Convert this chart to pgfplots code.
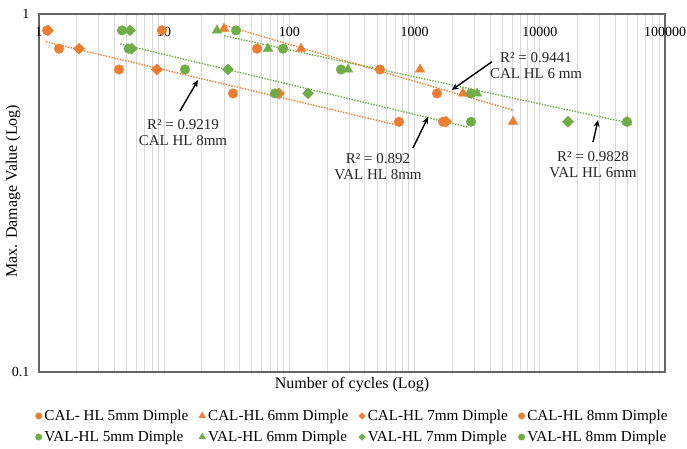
\documentclass[border=0pt]{standalone}
\usepackage{fontspec}
\setmainfont{Liberation Serif}
\usepackage{pgfplots}
\pgfplotsset{compat=1.18}
\usetikzlibrary{arrows.meta}
\definecolor{cOr}{HTML}{ED7D31}
\definecolor{cGr}{HTML}{70AD47}
\definecolor{gridc}{HTML}{D9D9D9}
\begin{document}
\begin{tikzpicture}
\useasboundingbox (-39pt,-76pt) rectangle (648pt,372pt);
\begin{axis}[
  at={(0,0)}, anchor=south west,
  scale only axis, width=626pt, height=358pt,
  xmode=log, ymode=log,
  xmin=1, xmax=100000, ymin=0.1, ymax=1,
  xtick={1,10,100,1000,10000,100000},
  xticklabels={1,10,100,1000,10000,100000},
  ytick={0.1,1}, yticklabels={0.1,1},
  yminorticks=false,
  xmajorgrids, xminorgrids,
  grid style={draw=gridc, line width=0.8pt},
  minor grid style={draw=gridc, line width=0.8pt},
  major grid style={draw=gridc, line width=0.8pt},
  major tick length=0pt, minor tick length=0pt,
  axis line style={draw=black!60, line width=1.2pt},
  xticklabel pos=upper,
  x tick label style={anchor=center, yshift=-18pt, font=\fontsize{14}{16}\selectfont},
  y tick label style={xshift=-6pt, font=\fontsize{14}{16}\selectfont},
  xlabel={Number of cycles (Log)},
  xlabel style={at={(axis description cs:0.5,-0.034)}, anchor=center, font=\fontsize{16}{18}\selectfont},
  ylabel={Max. Damage Value (Log)},
  ylabel style={at={(axis description cs:-0.0415,0.505)}, anchor=center, font=\fontsize{16}{18}\selectfont},
  legend columns=4,
  legend cell align=left,
  legend style={at={(axis description cs:0.5,-0.1522)}, anchor=center, draw=none, fill=none,
    font=\fontsize{15.2}{17}\selectfont, row sep=7pt,
    nodes={inner sep=1pt},
    /tikz/every odd column/.append style={column sep=1.5pt},
    /tikz/every even column/.append style={column sep=9.5pt}},
  legend image code/.code={\draw[#1] plot coordinates {(0pt,0pt)};},
  legend image post style={mark size=3.2pt},
]
% CAL-HL 5mm
\addplot[only marks, mark=*, mark size=4.8pt, color=cOr] coordinates {
 (9.6,0.9) (55.1,0.8) (529,0.7) (1510,0.6) (1686,0.5)};
\addlegendentry{CAL- HL 5mm Dimple}
% CAL-HL 6mm
\addplot[only marks, mark=triangle*, mark size=5.5pt, color=cOr,
  legend image post style={mark size=3.9pt}] coordinates {
 (30.0,0.91) (123.8,0.8) (1105,0.7) (2436,0.6) (6109,0.5)};
\addlegendentry{CAL-HL 6mm Dimple}
% CAL-HL 7mm
\addplot[only marks, mark=square*, mark options={rotate=45}, mark size=3.9pt, color=cOr,
  legend image post style={mark size=2.3pt}] coordinates {
 (1.18,0.9) (2.09,0.8) (8.76,0.7) (82.6,0.6) (1782,0.5)};
\addlegendentry{CAL-HL 7mm Dimple}
% CAL-HL 8mm
\addplot[only marks, mark=*, mark size=4.8pt, color=cOr] coordinates {
 (1.16,0.9) (1.445,0.8) (4.355,0.7) (35.4,0.6) (750,0.5)};
\addlegendentry{CAL-HL 8mm Dimple}
% VAL-HL 5mm
\addplot[only marks, mark=*, mark size=4.8pt, color=cGr] coordinates {
 (37.5,0.9) (88.9,0.8) (258,0.7) (2822,0.6) (49710,0.5)};
\addlegendentry{VAL-HL 5mm Dimple}
% VAL-HL 6mm
\addplot[only marks, mark=triangle*, mark size=5.5pt, color=cGr,
  legend image post style={mark size=3.9pt}] coordinates {
 (26.4,0.9) (67.5,0.8) (294,0.7) (3150,0.6) (49710,0.5)};
\addlegendentry{VAL-HL 6mm Dimple}
% VAL-HL 7mm
\addplot[only marks, mark=square*, mark options={rotate=45}, mark size=3.9pt, color=cGr,
  legend image post style={mark size=2.3pt}] coordinates {
 (5.33,0.9) (5.5,0.8) (32.3,0.7) (140.8,0.6) (16800,0.5)};
\addlegendentry{VAL-HL 7mm Dimple}
% VAL-HL 8mm
\addplot[only marks, mark=*, mark size=4.8pt, color=cGr] coordinates {
 (4.60,0.9) (5.2,0.8) (14.66,0.7) (76.7,0.6) (2822,0.5)};
\addlegendentry{VAL-HL 8mm Dimple}
% trendlines
\addplot[forget plot, no marks, color=cOr, line width=1.4pt, dash pattern=on 1.4pt off 1.4pt] coordinates {(1.138,0.836) (744.7,0.4885)};
\addplot[forget plot, no marks, color=cGr, line width=1.4pt, dash pattern=on 1.4pt off 1.4pt] coordinates {(4.446,0.825) (2704,0.4823)};
\addplot[forget plot, no marks, color=cOr, line width=1.4pt, dash pattern=on 1.4pt off 1.4pt] coordinates {(29.65,0.932) (6194,0.5377)};
\addplot[forget plot, no marks, color=cGr, line width=1.4pt, dash pattern=on 1.4pt off 1.4pt] coordinates {(30.2,0.869) (48753,0.498)};
% annotations
\tikzset{ann/.style={align=center, font=\fontsize{15}{16}\selectfont, text=black!85},
         arr/.style={-{Stealth[length=7pt,width=6pt]}, line width=1.4pt, black}}
\node[ann] at (rel axis cs:0.230,0.670) {R² = 0.9219\\CAL HL 8mm};
\draw[arr] (rel axis cs:0.2252,0.7291) -- (rel axis cs:0.254,0.8156);
\node[ann] at (rel axis cs:0.5415,0.5726) {R² = 0.892\\VAL HL 8mm};
\draw[arr] (rel axis cs:0.5974,0.6257) -- (rel axis cs:0.6214,0.7123);
\node[ann] at (rel axis cs:0.794,0.8547) {R² = 0.9441\\CAL HL 6 mm};
\draw[arr] (rel axis cs:0.7236,0.8668) -- (rel axis cs:0.6592,0.7877);
\node[ann] at (rel axis cs:0.885,0.578) {R² = 0.9828\\VAL HL 6mm};
\draw[arr] (rel axis cs:0.885,0.6425) -- (rel axis cs:0.893,0.704);
\end{axis}
\end{tikzpicture}
\end{document}
